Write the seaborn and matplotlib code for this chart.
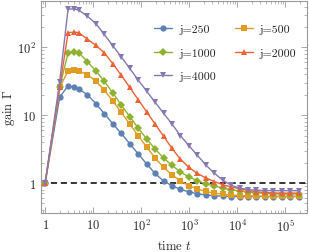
import numpy as np
import pandas as pd
import matplotlib
matplotlib.use('Agg')
import matplotlib.pyplot as plt
import seaborn as sns

sns.set_style('ticks')
plt.rcParams['font.family'] = ['cmr10', 'DejaVu Serif']
plt.rcParams['mathtext.fontset'] = 'cm'
plt.rcParams['axes.formatter.use_mathtext'] = True

# 시간 (로그 간격)
t = [1, 2, 3, 4, 5, 7.6, 11.4, 17.1, 25.6, 38.4, 57.7, 86.5, 130, 195, 292, 438,
     657, 985, 1478, 2217, 3325, 4988, 7482, 11223, 16834, 25251, 37877, 56815,
     85223, 127834, 191751]

# 각 j 에 대한 gain 값
g250 = [1, 18.3, 27.2, 25.7, 24.3, 20.0, 14.8, 10.5, 7.50, 5.37, 3.80, 2.69, 1.91,
        1.38, 1.07, 0.912, 0.804, 0.741, 0.692, 0.664, 0.649, 0.638, 0.631, 0.631,
        0.631, 0.631, 0.631, 0.631, 0.631, 0.631, 0.631]
g500 = [1, 25.7, 44.7, 46.2, 44.7, 39.8, 31.6, 23.4, 16.2, 11.0, 7.41, 5.01, 3.39,
        2.34, 1.70, 1.32, 1.07, 0.912, 0.813, 0.750, 0.708, 0.684, 0.664, 0.652,
        0.646, 0.641, 0.638, 0.637, 0.637, 0.637, 0.637]
g1000 = [1, 25.7, 83.2, 86.1, 83.2, 61.7, 44.7, 31.6, 21.4, 14.1, 9.55, 6.46, 4.47,
         3.16, 2.34, 1.82, 1.45, 1.23, 1.08, 0.977, 0.902, 0.841, 0.794, 0.759,
         0.733, 0.716, 0.705, 0.695, 0.692, 0.692, 0.692]
g2000 = [1, 25.7, 165, 168, 165, 132, 107, 83.2, 57.5, 38.9, 25.7, 17.0, 11.2, 7.41,
         4.90, 3.24, 2.24, 1.70, 1.38, 1.19, 1.05, 0.944, 0.871, 0.822, 0.776,
         0.741, 0.724, 0.711, 0.708, 0.708, 0.708]
g4000 = [1, 30.9, 368, 368, 355, 288, 224, 155, 106, 72.4, 49.0, 33.1, 22.6, 15.5,
         10.7, 7.41, 5.01, 3.55, 2.57, 1.84, 1.40, 1.10, 0.923, 0.841, 0.798, 0.780,
         0.773, 0.769, 0.769, 0.769, 0.769]

labels = ['j=250', 'j=500', 'j=1000', 'j=2000', 'j=4000']
colors = ['#5E81B5', '#E19C24', '#8FB131', '#EB6235', '#8778B3']
markers = ['o', 's', 'D', '^', 'v']

# long format 데이터프레임
frames = []
for lab, g in zip(labels, [g250, g500, g1000, g2000, g4000]):
    frames.append(pd.DataFrame({'t': t, 'gain': g, 'j': lab}))
df = pd.concat(frames, ignore_index=True)

fig = plt.figure(figsize=(3.09, 2.53), dpi=100)
ax = fig.add_axes([0.132, 0.154, 0.861, 0.839])

# 기준선 (gain = 1)
ax.axhline(1, color='black', linestyle=(0, (4, 2.5)), linewidth=1.1, zorder=1)

sns.lineplot(data=df, x='t', y='gain', hue='j', style='j',
             hue_order=labels, style_order=labels,
             palette=colors, markers=markers, dashes=False,
             linewidth=1.0, markersize=4.5, markeredgewidth=0,
             ax=ax, zorder=3)

ax.set_xscale('log')
ax.set_yscale('log')
ax.set_xlim(0.81, 2.83e5)
ax.set_ylim(0.36, 487)

ax.set_xticks([1, 10, 100, 1000, 1e4, 1e5])
ax.set_xticklabels(['$1$', '$10$', '$10^{2}$', '$10^{3}$', '$10^{4}$', '$10^{5}$'])
ax.set_yticks([1, 10, 100])
ax.set_yticklabels(['$1$', '$10$', '$10^{2}$'])

ax.set_xlabel('time $t$', fontsize=9, labelpad=4)
ax.set_ylabel(r'gain $\Gamma$', fontsize=9, labelpad=0)

ax.tick_params(which='both', direction='in', top=True, right=True,
               color='#999999', labelsize=9)
ax.tick_params(which='major', length=4, width=0.6)
ax.tick_params(which='minor', length=2, width=0.5)
for s in ax.spines.values():
    s.set_color('#999999')
    s.set_linewidth(0.8)

# 범례 : 행 순서로 (250, 500 / 1000, 2000 / 4000)
handles, labs = ax.get_legend_handles_labels()
order = [0, 2, 4, 1, 3]
ax.legend([handles[i] for i in order], [labs[i] for i in order],
          ncol=2, frameon=False, fontsize=8.5, loc='upper right',
          bbox_to_anchor=(1.0, 0.94), labelspacing=1.1, handlelength=1.5,
          handletextpad=0.6, columnspacing=1.6)

plt.savefig('out.png', dpi=100)
